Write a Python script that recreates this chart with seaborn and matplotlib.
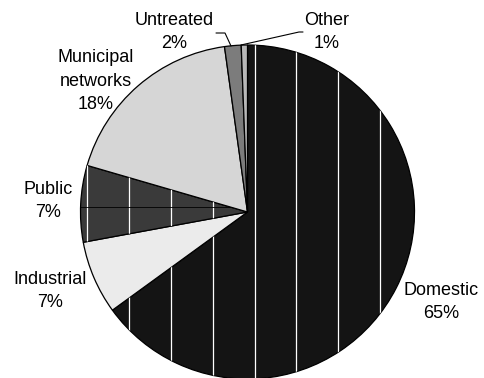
import numpy as np
import matplotlib
matplotlib.use("Agg")
import matplotlib.pyplot as plt
import seaborn as sns

# wastewater sources, share of total (%)
categories = ["Domestic", "Industrial", "Public", "Municipal\nnetworks", "Untreated", "Other"]
shares = [65.0, 7.1, 7.4, 18.3, 1.6, 0.6]
colors = ["#141414", "#ebebeb", "#3a3a3a", "#d6d6d6", "#7c7c7c", "#b8b8b8"]

W, H = 485, 378
CX, CY, R = 247.5, 212, 167   # pie centre / radius in pixels


def px(x, y):
    # pixel position (from top-left) -> data coords where the pie has radius 1
    return (x - CX) / R, (CY - y) / R


sns.set_theme(style="white")
plt.rcParams["font.family"] = ["Liberation Sans", "DejaVu Sans"]

fig = plt.figure(figsize=(W / 100, H / 100), dpi=100)
ax = fig.add_axes([(CX - R) / W, (H - CY - R) / H, 2 * R / W, 2 * R / H])

wedges, _ = ax.pie(shares, colors=colors, startangle=90, counterclock=False,
                   wedgeprops=dict(edgecolor="black", linewidth=0.9))
ax.set_xlim(-1, 1)
ax.set_ylim(-1, 1)
ax.set_aspect("auto")
ax.axis("off")

# thin white vertical rules seen through the dark slices
for w in (wedges[0], wedges[2]):
    for xv in np.arange(-0.96, 1.0, 0.2505):
        ln, = ax.plot([xv, xv], [-1.1, 1.1], color="white", lw=0.9, zorder=3)
        ln.set_clip_path(w)
ax.plot([-1, 0], [0.03, 0.03], color="black", lw=0.6, zorder=3)[0].set_clip_path(wedges[2])

labels = [f"{c}\n{round(v)}%" for c, v in zip(categories, shares)]
label_px = [(441, 302), (50, 291), (48, 201), (96, 81), (174, 32), (327, 32)]
for lab, (lx, ly) in zip(labels, label_px):
    x, y = px(lx, ly)
    ax.text(x, y, lab, ha="center", va="center", fontsize=13, linespacing=1.5,
            color="black", clip_on=False)

# leader lines for the two thin slices
for pts in ([(216, 33), (225, 33), (231, 46)], [(241, 45), (299, 32), (303, 32)]):
    xs, ys = zip(*[px(a, b) for a, b in pts])
    ax.plot(xs, ys, color="black", lw=0.8, clip_on=False)

fig.savefig("out.png", dpi=100)
